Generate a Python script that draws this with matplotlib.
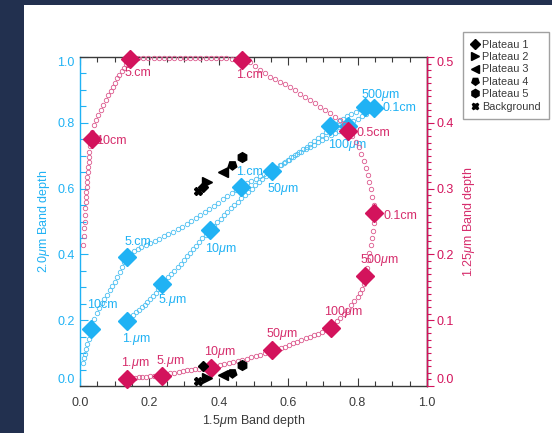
"""Band-depth cross plot: 2.0um / 1.25um band depth against 1.5um band depth."""
import matplotlib

matplotlib.use("Agg")
import matplotlib.pyplot as plt  # noqa: E402
from matplotlib.lines import Line2D  # noqa: E402
from matplotlib.patches import Rectangle  # noqa: E402
from matplotlib.ticker import MultipleLocator  # noqa: E402

plt.rcParams["font.family"] = ["Liberation Sans", "DejaVu Sans"]
plt.rcParams["mathtext.fontset"] = "custom"
plt.rcParams["mathtext.rm"] = "Liberation Sans"
plt.rcParams["mathtext.it"] = "Liberation Sans:italic"

BLUE = "#20B2F4"
BLUE_LIGHT = "#4CC0F2"
PINK = "#D3135C"
PINK_LIGHT = "#DC5A8E"
PINK_TEXT = "#D62D6C"
GREY = "#3a3a3a"

# grain sizes marked with big diamonds (same order on both curves)
grain_labels = ["1.$\\mu$m", "5.$\\mu$m", "10$\\mu$m", "50$\\mu$m", "100$\\mu$m",
                "500$\\mu$m", "0.1cm", "0.5cm", "1.cm", "5.cm", "10cm"]

# 2.0um vs 1.5um band depth at the marked grain sizes
blue_key_x = [0.136, 0.236, 0.376, 0.554, 0.721, 0.821, 0.847, 0.771, 0.464, 0.136, 0.033]
blue_key_y = [0.199, 0.310, 0.475, 0.655, 0.789, 0.848, 0.845, 0.790, 0.605, 0.393, 0.172]

# 1.25um vs 1.5um band depth at the marked grain sizes
pink_key_x = [0.136, 0.236, 0.377, 0.554, 0.722, 0.822, 0.848, 0.772, 0.466, 0.144, 0.034]
pink_key_y = [0.010, 0.015, 0.028, 0.054, 0.088, 0.167, 0.2625, 0.388, 0.496, 0.497, 0.3755]

# full model run, 2.0um band depth (small open circles)
blue_x = [0.136, 0.145, 0.153, 0.161, 0.170, 0.178, 0.186, 0.194, 0.202, 0.210, 0.218, 0.226,
          0.236, 0.245, 0.254, 0.263, 0.272, 0.281, 0.290, 0.299, 0.308, 0.317, 0.326, 0.335,
          0.344, 0.353, 0.362, 0.375, 0.385, 0.395, 0.405, 0.415, 0.425, 0.435, 0.445, 0.455,
          0.465, 0.475, 0.485, 0.495, 0.505, 0.515, 0.525, 0.535, 0.545, 0.554, 0.565, 0.576,
          0.587, 0.598, 0.609, 0.620, 0.631, 0.642, 0.653, 0.664, 0.675, 0.686, 0.697, 0.708,
          0.722, 0.734, 0.746, 0.758, 0.770, 0.782, 0.794, 0.806, 0.820, 0.833, 0.848,
          0.836, 0.824, 0.812, 0.800, 0.788, 0.776, 0.770, 0.758, 0.746, 0.734, 0.722, 0.710,
          0.698, 0.686, 0.674, 0.662, 0.650, 0.638, 0.626, 0.614, 0.602, 0.590, 0.578, 0.566,
          0.554, 0.542, 0.530, 0.518, 0.506, 0.494, 0.482, 0.470, 0.463,
          0.450, 0.437, 0.424, 0.411, 0.398, 0.385, 0.372, 0.359, 0.346, 0.333, 0.320, 0.307,
          0.294, 0.281, 0.268, 0.255, 0.242, 0.229, 0.216, 0.203, 0.190, 0.177, 0.166, 0.156,
          0.146, 0.136, 0.128, 0.121, 0.115, 0.108, 0.101, 0.093, 0.086, 0.078, 0.070, 0.062,
          0.055, 0.048, 0.041, 0.036, 0.033, 0.029, 0.025, 0.021, 0.017, 0.014, 0.012, 0.010]
blue_y = [0.199, 0.207, 0.216, 0.224, 0.232, 0.240, 0.247, 0.255, 0.264, 0.273, 0.283, 0.294,
          0.310, 0.320, 0.330, 0.340, 0.350, 0.361, 0.372, 0.383, 0.394, 0.405, 0.416, 0.427,
          0.438, 0.449, 0.460, 0.475, 0.486, 0.497, 0.508, 0.519, 0.529, 0.540, 0.550, 0.560,
          0.570, 0.580, 0.590, 0.600, 0.610, 0.620, 0.629, 0.638, 0.647, 0.655, 0.663, 0.671,
          0.679, 0.687, 0.695, 0.703, 0.711, 0.719, 0.727, 0.736, 0.745, 0.754, 0.763, 0.772,
          0.789, 0.797, 0.805, 0.813, 0.820, 0.827, 0.834, 0.841, 0.848, 0.847, 0.844,
          0.836, 0.828, 0.820, 0.812, 0.804, 0.796, 0.790, 0.783, 0.776, 0.769, 0.762, 0.755,
          0.748, 0.741, 0.734, 0.727, 0.720, 0.712, 0.704, 0.696, 0.688, 0.680, 0.672, 0.664,
          0.656, 0.648, 0.643, 0.637, 0.630, 0.623, 0.616, 0.609, 0.605,
          0.596, 0.586, 0.577, 0.567, 0.557, 0.548, 0.539, 0.529, 0.520, 0.510, 0.501, 0.491,
          0.483, 0.476, 0.469, 0.462, 0.455, 0.448, 0.441, 0.434, 0.428, 0.422, 0.416, 0.409,
          0.401, 0.393, 0.378, 0.362, 0.347, 0.332, 0.317, 0.303, 0.291, 0.278, 0.265, 0.252,
          0.238, 0.222, 0.205, 0.188, 0.172, 0.157, 0.142, 0.127, 0.112, 0.098, 0.084, 0.070]

# full model run, 1.25um band depth (small open circles)
pink_x = [0.136, 0.147, 0.158, 0.169, 0.180, 0.191, 0.202, 0.213, 0.224, 0.236,
          0.248, 0.260, 0.272, 0.284, 0.296, 0.308, 0.320, 0.332, 0.344, 0.356, 0.366, 0.377,
          0.390, 0.403, 0.416, 0.429, 0.442, 0.455, 0.468, 0.481, 0.494, 0.507, 0.520, 0.533,
          0.544, 0.554, 0.566, 0.578, 0.590, 0.602, 0.614, 0.626, 0.638, 0.650, 0.662, 0.674,
          0.686, 0.698, 0.709, 0.722, 0.730, 0.740, 0.750, 0.760, 0.770, 0.780, 0.790, 0.800,
          0.808, 0.814, 0.818, 0.822, 0.826, 0.830, 0.834, 0.838, 0.841, 0.844, 0.846, 0.848,
          0.846, 0.842, 0.838, 0.834, 0.829, 0.824, 0.818, 0.811, 0.803, 0.794, 0.785, 0.772,
          0.760, 0.748, 0.734, 0.720, 0.706, 0.692, 0.678, 0.663, 0.649, 0.634, 0.620, 0.605,
          0.590, 0.576, 0.562, 0.548, 0.534, 0.519, 0.505, 0.490, 0.476, 0.466,
          0.452, 0.437, 0.422, 0.407, 0.392, 0.377, 0.362, 0.347, 0.332, 0.317, 0.302, 0.287,
          0.272, 0.257, 0.242, 0.227, 0.212, 0.197, 0.182, 0.167, 0.155, 0.144,
          0.134, 0.126, 0.120, 0.113, 0.106, 0.101, 0.096, 0.089, 0.082, 0.075, 0.067, 0.060,
          0.053, 0.046, 0.040, 0.036, 0.034, 0.030, 0.027, 0.026, 0.025, 0.024, 0.022, 0.021,
          0.020, 0.019, 0.018, 0.017, 0.016, 0.015, 0.014, 0.013, 0.012, 0.011, 0.010]
pink_y = [0.010, 0.011, 0.012, 0.013, 0.0135, 0.014, 0.0145, 0.015, 0.015, 0.015,
          0.017, 0.019, 0.0205, 0.022, 0.023, 0.024, 0.025, 0.0255, 0.026, 0.0265, 0.027, 0.028,
          0.030, 0.032, 0.034, 0.0355, 0.037, 0.0385, 0.040, 0.0415, 0.0435, 0.0455, 0.0475, 0.0495,
          0.0515, 0.054, 0.056, 0.058, 0.060, 0.0625, 0.065, 0.0675, 0.070, 0.0725, 0.075, 0.077,
          0.079, 0.0815, 0.0845, 0.088, 0.094, 0.099, 0.104, 0.110, 0.116, 0.123, 0.129, 0.135,
          0.141, 0.1475, 0.155, 0.167, 0.179, 0.1915, 0.2025, 0.214, 0.225, 0.235, 0.247, 0.2625,
          0.275, 0.2875, 0.299, 0.310, 0.321, 0.3315, 0.342, 0.3525, 0.3625, 0.3715, 0.380, 0.388,
          0.3975, 0.4045, 0.4095, 0.4145, 0.4195, 0.4245, 0.4295, 0.4345, 0.4395, 0.4445, 0.4495, 0.455,
          0.459, 0.4625, 0.466, 0.470, 0.475, 0.480, 0.486, 0.4925, 0.495, 0.496,
          0.497, 0.497, 0.498, 0.498, 0.498, 0.499, 0.499, 0.499, 0.499, 0.499, 0.499, 0.499,
          0.499, 0.499, 0.499, 0.499, 0.499, 0.498, 0.498, 0.498, 0.497, 0.497,
          0.489, 0.484, 0.479, 0.473, 0.4675, 0.461, 0.455, 0.4485, 0.442, 0.4345, 0.427, 0.4195,
          0.412, 0.404, 0.3965, 0.386, 0.3755, 0.364, 0.356, 0.3485, 0.341, 0.333, 0.3255, 0.318,
          0.3105, 0.303, 0.2955, 0.2875, 0.280, 0.270, 0.260, 0.250, 0.240, 0.2275, 0.215]

# measured plateau / background band depths
plateau_names = ["Plateau 1", "Plateau 2", "Plateau 3", "Plateau 4", "Plateau 5", "Background"]
plateau_bd15 = [0.355, 0.366, 0.413, 0.439, 0.466, 0.341]
plateau_bd20 = [0.606, 0.621, 0.650, 0.672, 0.695, 0.594]
plateau_bd125 = [0.031, 0.012, 0.017, 0.020, 0.032, 0.0076]
plateau_markers = ["D", ">", "<", (5, 0, 180), "h", "X"]
plateau_sizes = [5.5, 6.5, 6.5, 6.5, 7, 5.5]

# label offsets from each diamond, in pixels
blue_offsets = [(9, -18), (10, -16), (11, -19), (11, -18), (17, -19), (16, 12), (26, 0),
                None, (8, 15), (11, 15), (11, 24)]
pink_offsets = [(8, 16), (8, 15), (9, 16), (10, 16), (13, 16), (14, 16), (26, -3),
                (25, -2), (8, -15), (8, -14), (20, -2)]


def style_axes(ax, ax2):
    ax.set_xlim(0, 1)
    ax.set_ylim(0, 1)
    ax2.set_ylim(0, 0.5)

    ax.spines["left"].set_color(BLUE)
    ax.spines["bottom"].set_color(GREY)
    ax.spines["top"].set_color(GREY)
    ax2.spines["right"].set_color(PINK)
    ax2.spines["left"].set_visible(False)
    ax2.spines["top"].set_visible(False)
    ax2.spines["bottom"].set_visible(False)
    for sp in ax.spines.values():
        sp.set_linewidth(1.0)
    ax2.spines["right"].set_linewidth(1.0)

    ax.xaxis.set_major_locator(MultipleLocator(0.2))
    ax.xaxis.set_minor_locator(MultipleLocator(0.05))
    ax.yaxis.set_major_locator(MultipleLocator(0.2))
    ax.yaxis.set_minor_locator(MultipleLocator(0.05))
    ax2.yaxis.set_major_locator(MultipleLocator(0.1))
    ax2.yaxis.set_minor_locator(MultipleLocator(0.01))

    ax.tick_params(axis="x", which="both", direction="in", top=True, colors=GREY,
                   labelsize=9, pad=8)
    ax.tick_params(axis="x", which="major", length=6, width=0.8)
    ax.tick_params(axis="x", which="minor", length=3.5, width=0.8)
    ax.tick_params(axis="y", which="both", direction="in", right=False, colors=BLUE,
                   labelsize=9, pad=4)
    ax.tick_params(axis="y", which="major", length=6, width=0.8)
    ax.tick_params(axis="y", which="minor", length=4, width=0.8)
    ax2.tick_params(axis="y", which="both", direction="out", colors=PINK, labelsize=9, pad=2)
    ax2.tick_params(axis="y", which="major", length=5, width=0.8)
    ax2.tick_params(axis="y", which="minor", length=3, width=0.8)

    ax.set_xticks([0, 0.2, 0.4, 0.6, 0.8, 1.0])
    ax.set_xticklabels(["0.0", "0.2", "0.4", "0.6", "0.8", "1.0"])
    ax.set_yticks([0, 0.2, 0.4, 0.6, 0.8, 1.0])
    ax.set_yticklabels(["0.0", "0.2", "0.4", "0.6", "0.8", "1.0"])
    ax2.set_yticks([0, 0.1, 0.2, 0.3, 0.4, 0.5])
    ax2.set_yticklabels(["0.0", "0.1", "0.2", "0.3", "0.4", "0.5"])
    # end labels sit inside the frame
    for labels in (ax.get_yticklabels(), ax2.get_yticklabels()):
        labels[0].set_va("bottom")
        labels[-1].set_va("top")

    ax.set_xlabel("1.5$\\mu$m Band depth", color=GREY, fontsize=9, labelpad=3)
    ax.set_ylabel("2.0$\\mu$m Band depth", color=BLUE, fontsize=9, labelpad=4)
    ax2.set_ylabel("1.25$\\mu$m Band depth", color=PINK_TEXT, fontsize=9, labelpad=5)


def label_keys(ax, xs, ys, offsets, color):
    for x, y, lab, off in zip(xs, ys, grain_labels, offsets):
        if off is None:
            continue
        ax.annotate(lab, (x, y), xytext=off, textcoords="offset pixels",
                    ha="center", va="center", fontsize=9, color=color,
                    annotation_clip=False, zorder=6)


fig = plt.figure(figsize=(5.52, 4.33), dpi=100, facecolor="#22304f")
fig.add_artist(Rectangle((24 / 552, 0), 1 - 24 / 552, 1 - 5 / 433,
                         transform=fig.transFigure, facecolor="white",
                         edgecolor="none", zorder=0))

ax = fig.add_axes([80 / 552, 1 - 386 / 433, 347 / 552, 329 / 433])
ax.set_facecolor("none")
ax2 = ax.twinx()
ax2.set_facecolor("none")

# blue: 2.0um band depth (left axis)
ax.plot(blue_x, blue_y, "o", ms=3.2, mfc="none", mec=BLUE_LIGHT, mew=0.6,
        clip_on=False, zorder=3)
ax.plot(blue_key_x, blue_key_y, "D", ms=9.5, color=BLUE, mec=BLUE, clip_on=False, zorder=4)
label_keys(ax, blue_key_x, blue_key_y, blue_offsets, BLUE)
for x, y, m, s in zip(plateau_bd15, plateau_bd20, plateau_markers, plateau_sizes):
    ax.plot(x, y, marker=m, ms=s, color="black", ls="none", zorder=5)

# pink: 1.25um band depth (right axis)
ax2.plot(pink_x, pink_y, "o", ms=3.2, mfc="none", mec=PINK_LIGHT, mew=0.6,
         clip_on=False, zorder=3)
ax2.plot(pink_key_x, pink_key_y, "D", ms=9.5, color=PINK, mec=PINK, clip_on=False, zorder=4)
label_keys(ax2, pink_key_x, pink_key_y, pink_offsets, PINK_TEXT)
for x, y, m, s in zip(plateau_bd15, plateau_bd125, plateau_markers, plateau_sizes):
    ax2.plot(x, y, marker=m, ms=s, color="black", ls="none", zorder=5)

style_axes(ax, ax2)

handles = [Line2D([], [], marker=m, ms=s * 0.85, color="black", ls="none")
           for m, s in zip(plateau_markers, plateau_sizes)]
leg = fig.legend(handles, plateau_names, loc="upper left",
                 bbox_to_anchor=(463 / 552, 1 - 32 / 433), fontsize=7.8,
                 frameon=True, fancybox=False, edgecolor="#8a8a8a",
                 handlelength=0.8, handletextpad=0.3, borderpad=0.7,
                 labelspacing=0.22, borderaxespad=0)
leg.get_frame().set_linewidth(1.0)
for t in leg.get_texts():
    t.set_color(GREY)

fig.savefig("out.png", dpi=100, facecolor=fig.get_facecolor())
